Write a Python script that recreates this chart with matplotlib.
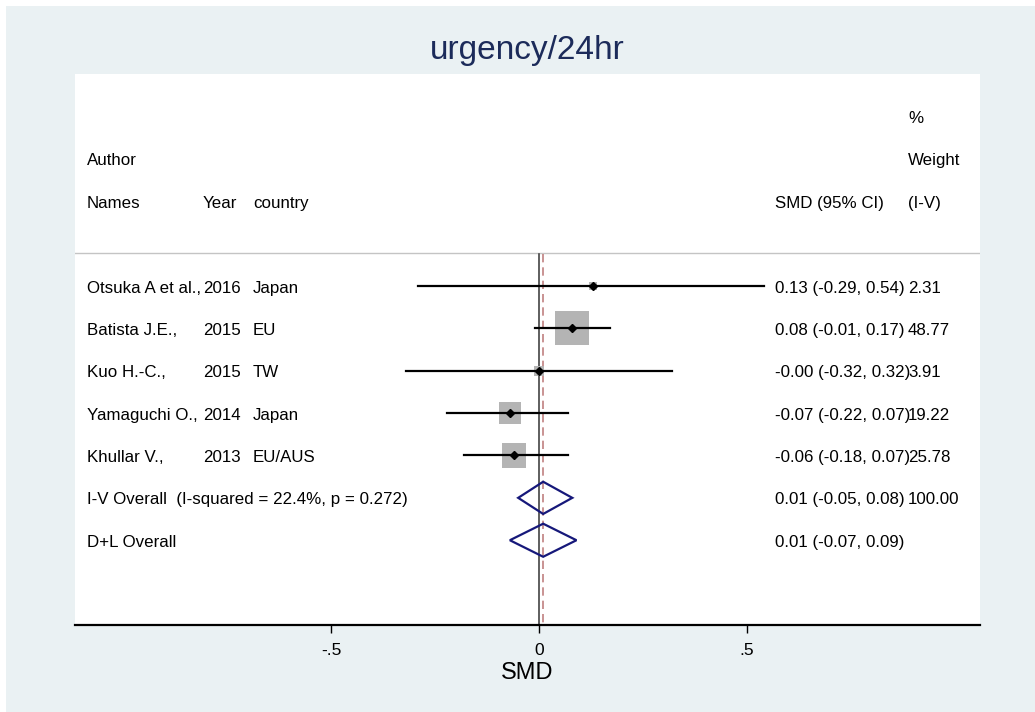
import numpy as np
import matplotlib.pyplot as plt
from matplotlib.patches import Rectangle, Polygon
from matplotlib.transforms import blended_transform_factory

plt.rcParams['font.family'] = ['Liberation Sans', 'DejaVu Sans']

# study data
authors = ["Otsuka A et al.,", "Batista J.E.,", "Kuo H.-C.,", "Yamaguchi O.,", "Khullar V.,"]
years = ["2016", "2015", "2015", "2014", "2013"]
countries = ["Japan", "EU", "TW", "Japan", "EU/AUS"]
smd = [0.13, 0.08, -0.00, -0.07, -0.06]
lower = [-0.29, -0.01, -0.32, -0.22, -0.18]
upper = [0.54, 0.17, 0.32, 0.07, 0.07]
weights = [2.31, 48.77, 3.91, 19.22, 25.78]
smd_txt = ["0.13 (-0.29, 0.54)", "0.08 (-0.01, 0.17)", "-0.00 (-0.32, 0.32)",
           "-0.07 (-0.22, 0.07)", "-0.06 (-0.18, 0.07)"]
wt_txt = ["2.31", "48.77", "3.91", "19.22", "25.78"]

# pooled estimates
pooled_labels = ["I-V Overall  (I-squared = 22.4%, p = 0.272)", "D+L Overall"]
pooled_est = [0.01, 0.01]
pooled_lo = [-0.05, -0.07]
pooled_hi = [0.08, 0.09]
pooled_txt = ["0.01 (-0.05, 0.08)", "0.01 (-0.07, 0.09)"]
pooled_wt = ["100.00", ""]

xticks = [-0.5, 0, 0.5]
xticklabels = ["-.5", "0", ".5"]

bg = '#eaf1f3'
navy = '#16187a'

fig = plt.figure(figsize=(10.35, 7.12), dpi=100)
fig.patch.set_facecolor('white')
fig.patches.append(Rectangle((6 / 1035, 0), 1, 706 / 712, transform=fig.transFigure,
                             facecolor=bg, edgecolor='none', zorder=-10))

ax = fig.add_axes([75 / 1035, (712 - 625) / 712, 905 / 1035, 551 / 712])
ax.set_facecolor('white')
ax.set_xlim(-1.1154, 1.0601)
ax.set_ylim(8.0, -5.0)

# header separator and reference lines
ax.axhline(-0.78, color='#c4c4c4', lw=1)
ax.plot([0, 0], [-0.75, 8], color='#333333', lw=1.1)
ax.plot([pooled_est[0]] * 2, [-0.75, 8], color='#c08080', lw=1.2, ls=(0, (5, 3)))

# studies
xs_per_px = (1.0601 + 1.1154) / 905
ys_per_px = 13.0 / 551
for i in range(len(smd)):
    side = 4.87 * np.sqrt(weights[i])
    w = side * xs_per_px
    h = side * ys_per_px
    ax.add_patch(Rectangle((smd[i] - w / 2, i - h / 2), w, h, facecolor='#b4b4b4',
                           edgecolor='none', zorder=2))
    ax.plot([lower[i], upper[i]], [i, i], color='black', lw=1.6, zorder=3)
    ax.plot(smd[i], i, marker='D', color='black', ms=4.5, zorder=4)

# pooled diamonds
for j in range(len(pooled_est)):
    y = len(smd) + j
    hh = 0.38 + 0.01 * j
    ax.add_patch(Polygon([(pooled_lo[j], y), (pooled_est[j], y - hh), (pooled_hi[j], y),
                          (pooled_est[j], y + hh)], closed=True, fill=False,
                         edgecolor=navy, lw=1.6, zorder=4))

# text columns
tr = blended_transform_factory(ax.transAxes, ax.transData)
fs = 12.2
dy = 0.05
x_name, x_year, x_cty, x_ci, x_wt = 0.0133, 0.1414, 0.1967, 0.7735, 0.9204


def put(x, y, s):
    ax.text(x, y + dy, s, transform=tr, fontsize=fs, va='center')


put(x_wt, -4, "%")
put(x_name, -3, "Author")
put(x_wt, -3, "Weight")
put(x_name, -2, "Names")
put(x_year, -2, "Year")
put(x_cty, -2, "country")
put(x_ci, -2, "SMD (95% CI)")
put(x_wt, -2, "(I-V)")

for i in range(len(smd)):
    put(x_name, i, authors[i])
    put(x_year, i, years[i])
    put(x_cty, i, countries[i])
    put(x_ci, i, smd_txt[i])
    put(x_wt, i, wt_txt[i])
for j in range(len(pooled_est)):
    y = len(smd) + j
    put(x_name, y, pooled_labels[j])
    put(x_ci, y, pooled_txt[j])
    put(x_wt, y, pooled_wt[j])

# axes styling
for s in ['top', 'left', 'right']:
    ax.spines[s].set_visible(False)
ax.spines['bottom'].set_linewidth(1.6)
ax.set_yticks([])
ax.set_xticks(xticks)
ax.set_xticklabels(xticklabels, fontsize=12.5)
ax.tick_params(axis='x', length=6, width=1, pad=7)
ax.set_xlabel("SMD", fontsize=17, labelpad=3)

fig.text(527 / 1035, 1 - 51 / 712, "urgency/24hr", fontsize=24, color='#1c2b5a',
         ha='center', va='center')

plt.savefig("out.png", dpi=100, facecolor=fig.get_facecolor())
